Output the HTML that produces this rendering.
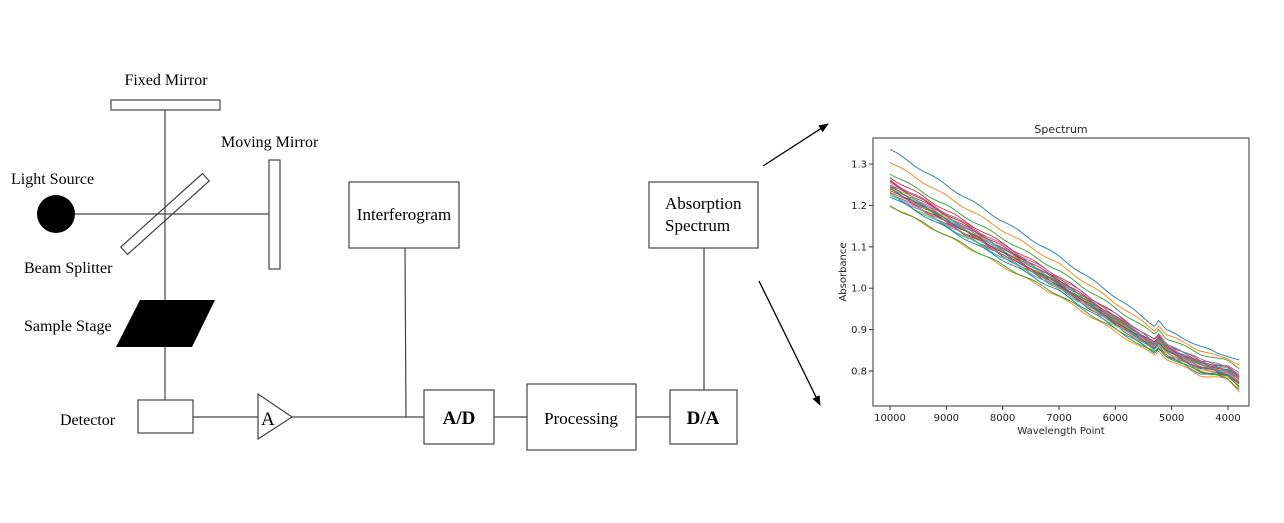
<!DOCTYPE html>
<html><head><meta charset="utf-8"><style>
html,body{margin:0;padding:0;background:#fff;width:1284px;height:523px;overflow:hidden}
svg{display:block}
.s{font-family:"Liberation Serif",serif;fill:#000}
.p{font-family:"DejaVu Sans","Liberation Sans",sans-serif;fill:#222}
</style></head><body>
<svg id="g" width="1284" height="523" viewBox="0 0 1284 523" xmlns="http://www.w3.org/2000/svg">
<defs><marker id="ah" markerWidth="10" markerHeight="10" refX="9" refY="5" orient="auto" markerUnits="userSpaceOnUse"><path d="M0,1 L10,5 L0,9 z" fill="#000"/></marker></defs>
<g stroke="#444" stroke-width="1.2" fill="none">
<rect x="111" y="100" width="109" height="10" fill="#fff"/>
<line x1="165" y1="110" x2="165" y2="400"/>
<rect x="269" y="160" width="11" height="109" fill="#fff"/>
<line x1="75" y1="214" x2="269" y2="214"/>
<rect x="110" y="209" width="110" height="10" transform="rotate(-42 165 214)" fill="none"/>
<rect x="138" y="400" width="55" height="33" fill="#fff"/>
<line x1="193" y1="417" x2="258" y2="417"/>
<polygon points="258,394 258,439 292,417" fill="#fff"/>
<line x1="292" y1="417" x2="424" y2="417"/>
<rect x="349" y="182" width="110" height="66"/>
<line x1="405" y1="248" x2="406" y2="417"/>
<rect x="424" y="390" width="70" height="54"/>
<line x1="494" y1="417" x2="527" y2="417"/>
<rect x="527" y="384" width="109" height="66"/>
<line x1="636" y1="417" x2="670" y2="417"/>
<rect x="670" y="390" width="67" height="54"/>
<rect x="649" y="182" width="109" height="66"/>
<line x1="704" y1="248" x2="704" y2="390"/>
</g>
<circle cx="56" cy="214" r="19" fill="#000"/>
<polygon points="116,347 140,300 215,300 192,347" fill="#000"/>
<line x1="763" y1="166" x2="828" y2="124" stroke="#000" stroke-width="1.3" marker-end="url(#ah)"/>
<line x1="759" y1="281" x2="820" y2="405" stroke="#000" stroke-width="1.3" marker-end="url(#ah)"/>
<g class="s" font-size="16">
<text x="166" y="85" text-anchor="middle">Fixed Mirror</text>
<text x="221" y="147">Moving Mirror</text>
<text x="11" y="184">Light Source</text>
<text x="24" y="273">Beam Splitter</text>
<text x="24" y="331">Sample Stage</text>
<text x="60" y="425">Detector</text>
<text x="261" y="425" font-size="19">A</text>
<text x="404" y="220" text-anchor="middle" font-size="17">Interferogram</text>
<text x="665" y="209" font-size="17">Absorption</text>
<text x="665" y="231" font-size="17">Spectrum</text>
<text x="581" y="424" text-anchor="middle" font-size="17">Processing</text>
<text x="459" y="424" text-anchor="middle" font-size="19" font-weight="bold">A/D</text>
<text x="703" y="424" text-anchor="middle" font-size="19" font-weight="bold">D/A</text>
</g>
<g id="plot">
<rect x="873" y="138" width="376" height="268" fill="none" stroke="#333" stroke-width="1"/>
<text class="p" x="1061" y="133" font-size="11" text-anchor="middle">Spectrum</text>
<text class="p" x="1061" y="434" font-size="10" text-anchor="middle">Wavelength  Point</text>
<text class="p" x="846" y="272" font-size="10" text-anchor="middle" transform="rotate(-90 846 272)">Absorbance</text>
</g>
</svg>
<script>
(function(){
var ns="http://www.w3.org/2000/svg",p=document.getElementById("plot");
function X(w){return 890+(10000-w)/1000*56.33}
function Y(v){return 164+(1.3-v)/0.1*41.4}
function el(t,a,txt){var e=document.createElementNS(ns,t);for(var k in a)e.setAttribute(k,a[k]);if(txt)e.textContent=txt;p.appendChild(e);return e}
[10000,9000,8000,7000,6000,5000,4000].forEach(function(w){var x=X(w);el("line",{x1:x,y1:406,x2:x,y2:410,stroke:"#333"});el("text",{x:x,y:421,"font-size":10,"text-anchor":"middle","class":"p"},String(w))});
[0.8,0.9,1.0,1.1,1.2,1.3].forEach(function(v){var y=Y(v);el("line",{x1:869,y1:y,x2:873,y2:y,stroke:"#333"});el("text",{x:867,y:y+3.5,"font-size":10,"text-anchor":"end","class":"p"},v.toFixed(1))});
var cols=["#1f77b4","#ff7f0e","#2ca02c","#d62728","#9467bd","#8c564b","#e377c2","#7f7f7f","#bcbd22","#17becf"];
var kw=[10000,7000,6000,5400,5300,5230,5100,4500,4200,4000,3800];
var lo=[1.2,0.98,0.895,0.845,0.838,0.85,0.83,0.79,0.785,0.778,0.752];
var hi=[1.335,1.08,0.985,0.925,0.915,0.93,0.905,0.868,0.85,0.845,0.835];
function interp(w,arr){for(var k=0;k<kw.length-1;k++){if(w<=kw[k]&&w>=kw[k+1]){var t=(kw[k]-w)/(kw[k]-kw[k+1]);return arr[k]+(arr[k+1]-arr[k])*t}}return arr[arr.length-1]}
var starts=[1.335,1.305,1.278,1.268,1.26,1.255,1.252,1.25,1.248,1.245,1.242,1.24,1.238,1.236,1.234,1.232,1.23,1.228,1.226,1.224,1.222,1.2,1.198,1.258,1.246,1.244];
starts.forEach(function(s,i){
var d=Math.max(0,(s-1.2)/0.135);
var pts=[],n=160;
for(var j=0;j<=n;j++){var w=10000-j*(6200/n);
var v=interp(w,lo)+(interp(w,hi)-interp(w,lo))*d;
v+=0.0025*Math.sin(w/110+i)+0.004*((i*7)%5-2)*((10000-w)/6200);
pts.push(X(w).toFixed(1)+","+Y(v).toFixed(1));}
el("polyline",{points:pts.join(" "),fill:"none",stroke:cols[i%10],"stroke-width":0.9});
});
})();
</script>
</body></html>
